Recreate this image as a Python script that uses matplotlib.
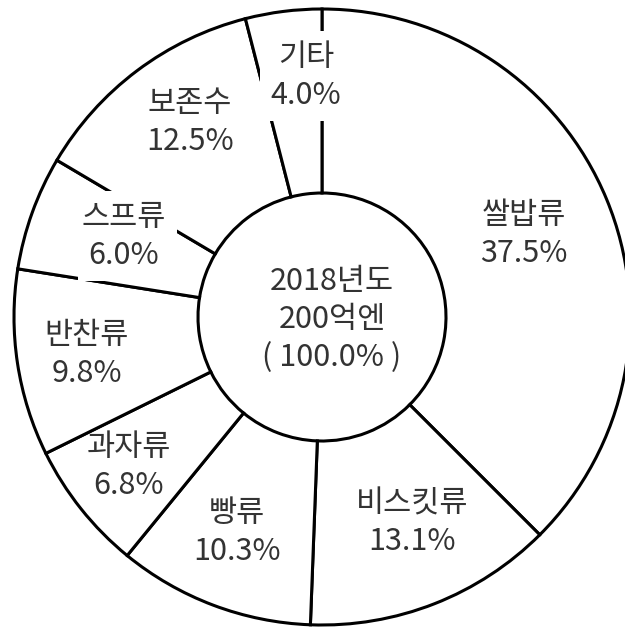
import matplotlib
matplotlib.use("Agg")
import matplotlib.pyplot as plt

plt.rcParams["font.family"] = ["Noto Sans CJK KR", "DejaVu Sans"]

# market share by category, clockwise from 12 o'clock
categories = ["쌀밥류", "비스킷류", "빵류", "과자류", "반찬류", "스프류", "보존수", "기타"]
shares = [37.5, 13.1, 10.3, 6.8, 9.8, 6.0, 12.5, 4.0]
year = "2018년도"
total_label = "200억엔"
total_share = 100.0

W, H = 625, 631
CX, CY = 322, 317          # ring centre (pixels from top-left)
R_OUT, R_IN = 308, 124
ROW = 38                   # row pitch of the labels, px
FONT = 22
TEXT_COLOR = "#333333"

# label anchors, pixels from top-left
label_pos = {
    "쌀밥류": (524, 234),
    "비스킷류": (412, 523),
    "빵류": (237, 533),
    "과자류": (129, 467),
    "반찬류": (87, 354),
    "스프류": (124, 236),
    "보존수": (190, 123),
    "기타": (306, 76),
}
# labels that sit on top of a divider and blank it out
masked = {"스프류", "기타"}


def px(x, y):
    return x, H - y


def put_rows(ax, x, y, rows, mask=False):
    top = y - ROW * (len(rows) - 1) / 2
    for i, s in enumerate(rows):
        kw = {}
        if mask:
            kw["bbox"] = dict(boxstyle="square,pad=0.35", facecolor="white", edgecolor="none")
        ax.text(
            *px(x, top + i * ROW),
            s,
            ha="center",
            va="center",
            fontsize=FONT,
            fontweight="light",
            color=TEXT_COLOR,
            zorder=5,
            **kw,
        )


fig = plt.figure(figsize=(W / 100, H / 100), dpi=100)
ax = fig.add_axes([0, 0, 1, 1])

ax.pie(
    shares,
    startangle=90,
    counterclock=False,
    radius=R_OUT,
    center=px(CX, CY),
    wedgeprops=dict(
        width=R_OUT - R_IN, facecolor="white", edgecolor="black", linewidth=2.2
    ),
)

for name, val in zip(categories, shares):
    x, y = label_pos[name]
    put_rows(ax, x, y, [name, f"{val:.1f}%"], mask=name in masked)

put_rows(ax, 332, 320, [year, total_label, f"( {total_share:.1f}% )"])

ax.set_xlim(0, W)
ax.set_ylim(0, H)
ax.axis("off")

fig.savefig("out.png", dpi=100, facecolor="white")
